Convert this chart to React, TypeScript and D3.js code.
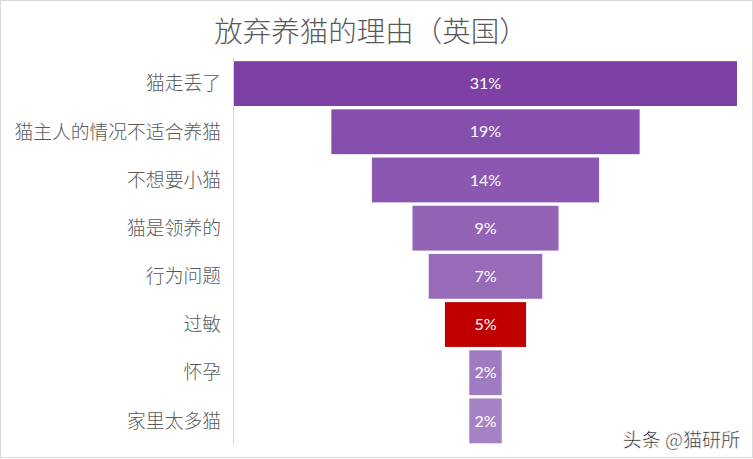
import React from "react";
import * as d3 from "d3";

const categories = [
  "猫走丢了",
  "猫主人的情况不适合养猫",
  "不想要小猫",
  "猫是领养的",
  "行为问题",
  "过敏",
  "怀孕",
  "家里太多猫",
];
const values = [31, 19, 14, 9, 7, 5, 2, 2];
const colors = ["#7E40A5", "#874FAD", "#8B57B0", "#9363B5", "#986BB9", "#C00000", "#A17BC1", "#A582C4"];
const title = "放弃养猫的理由（英国）";
const watermark = "头条 @猫研所";

const W = 753;
const H = 459;
const cx = 485.5;
const halfW = 251.5;

export default function App() {
  const y = d3
    .scaleBand<string>()
    .domain(categories)
    .range([59.5, 445])
    .paddingInner(0.07)
    .paddingOuter(0.035);
  const x = d3.scaleLinear().domain([0, d3.max(values) as number]).range([0, halfW]);
  const cjk = "'Noto Sans CJK SC', 'Microsoft YaHei', sans-serif";

  return (
    <svg
      width={W}
      height={H}
      viewBox={`0 0 ${W} ${H}`}
      style={{ position: "absolute", left: 0, top: 0, background: "#fff" }}
    >
      <rect x={0.5} y={0.5} width={W - 1} height={H - 2} fill="#fff" stroke="#d9d9d9" />
      <text
        x={371}
        y={41.5}
        textAnchor="middle"
        fontFamily={cjk}
        fontSize={28.5}
        fontWeight={300}
        fill="#595959"
      >
        {title}
      </text>
      <line x1={233.5} x2={233.5} y1={58} y2={445} stroke="#d9d9d9" strokeWidth={1} />
      {categories.map((c, i) => {
        const yy = y(c) as number;
        const h = y.bandwidth();
        const w = x(values[i]);
        return (
          <g key={c}>
            <rect x={cx - w} y={yy} width={w * 2} height={h} fill={colors[i]} />
            <text
              x={cx}
              y={yy + h / 2}
              dy="0.35em"
              textAnchor="middle"
              fontFamily="Lato, 'Noto Sans', sans-serif"
              fontSize={16}
              fill="#fff"
            >
              {values[i]}%
            </text>
            <text
              x={221}
              y={yy + h / 2}
              dy="0.36em"
              textAnchor="end"
              fontFamily={cjk}
              fontSize={18.8}
              fontWeight={300}
              fill="#595959"
            >
              {c}
            </text>
          </g>
        );
      })}
      <text
        x={740}
        y={447}
        textAnchor="end"
        fontFamily={cjk}
        fontSize={19}
        fill="#222"
        stroke="#fff"
        strokeWidth={0.5}
      >
        {watermark}
      </text>
    </svg>
  );
}
